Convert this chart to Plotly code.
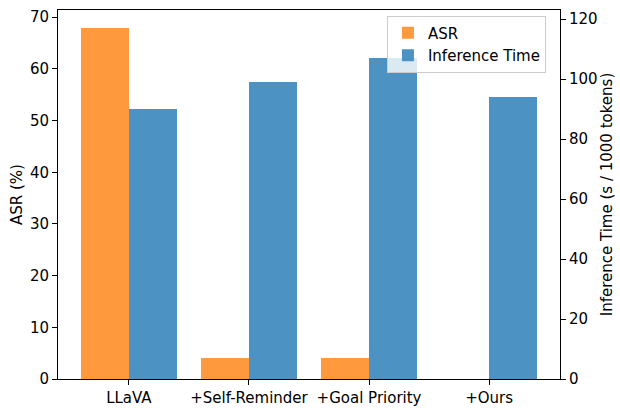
import plotly.graph_objects as go

methods = ["LLaVA", "+Self-Reminder", "+Goal Priority", "+Ours"]
asr = [68, 4, 4, 0]                  # ASR (%)
inference_time = [90, 99, 107, 94]   # s / 1000 tokens

ORANGE = "#ff993e"  # tab:orange at alpha 0.8 on white
BLUE = "#4c92c3"    # tab:blue at alpha 0.8 on white
FONT = "DejaVu Sans"

fig = go.Figure()

fig.add_trace(go.Bar(
    x=methods, y=asr, name="ASR",
    marker=dict(color=ORANGE, line_width=0),
    width=0.4, offset=-0.4, yaxis="y",
))

fig.add_trace(go.Bar(
    x=methods, y=inference_time, name="Inference Time",
    marker=dict(color=BLUE, line_width=0),
    width=0.4, offset=0, yaxis="y2",
))

axis_common = dict(
    showgrid=False, zeroline=False, automargin=False,
    showline=True, linecolor="black", linewidth=1,
    ticks="outside", ticklen=5, tickcolor="black",
    tickfont=dict(family=FONT, size=15, color="black"),
)

fig.update_layout(
    width=620, height=414,
    margin=dict(l=58, r=60, t=10, b=35),
    plot_bgcolor="white", paper_bgcolor="white",
    font=dict(family=FONT, size=15, color="black"),
    xaxis=dict(**axis_common, range=[-0.59, 3.59], mirror=True),
    yaxis=dict(**axis_common, range=[0, 71.4], dtick=10,
               title=dict(text="ASR (%)", font=dict(size=15), standoff=3)),
    yaxis2=dict(**axis_common, range=[0, 123], dtick=20,
                overlaying="y", side="right",
                title=dict(text="Inference Time (s / 1000 tokens)",
                           font=dict(size=15), standoff=1)),
    showlegend=True,
    legend=dict(x=0.972, y=0.985, xanchor="right", yanchor="top",
                bgcolor="rgba(255,255,255,0.8)", bordercolor="#cccccc",
                borderwidth=1, font=dict(size=15), tracegroupgap=0,
                traceorder="normal"),
    bargap=0,
)

# drop the browser's default 8px page margin so the figure fills the window
fig.write_html("out.html", config={"displayModeBar": False},
               post_script="document.body.style.margin='0';")
